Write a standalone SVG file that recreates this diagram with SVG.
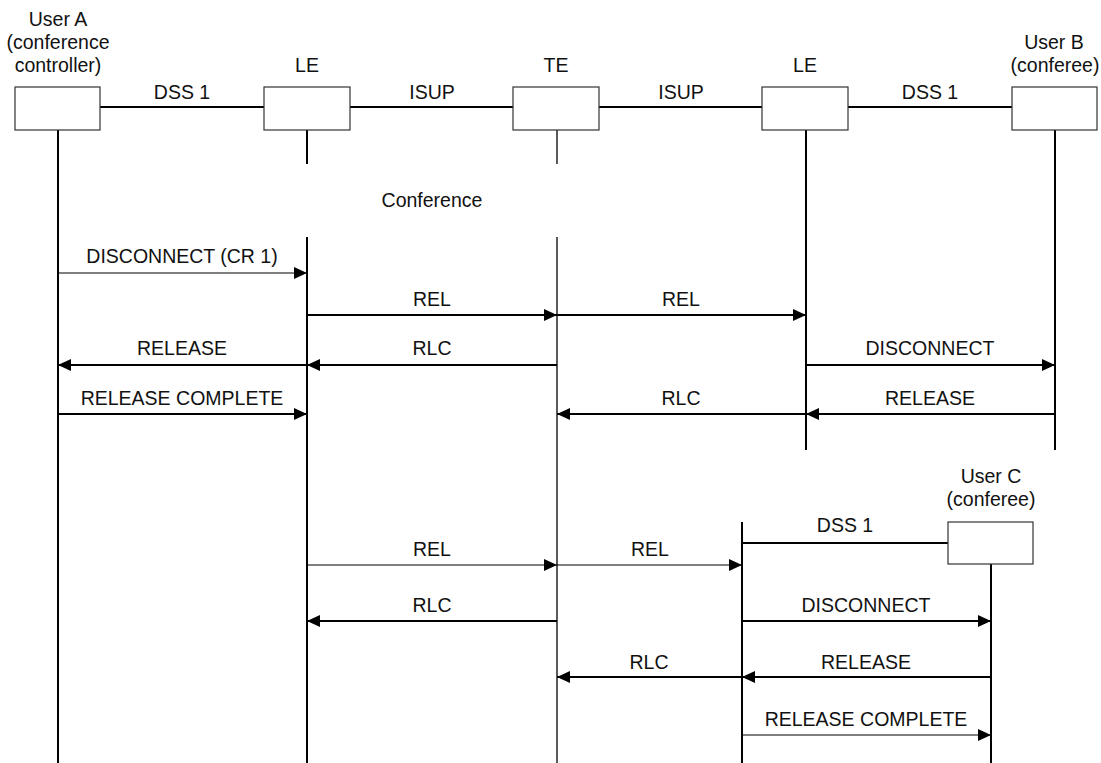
<svg xmlns="http://www.w3.org/2000/svg" width="1101" height="763" viewBox="0 0 1101 763">
<style>
text{font-family:"Liberation Sans",Arial,sans-serif;font-size:19.5px;fill:#111;text-anchor:middle}
.box{fill:#fff;stroke:#333;stroke-width:1.2}
.life{stroke:#000;stroke-width:2;fill:none}
.lifet{stroke:#000;stroke-width:1.3;fill:none}
.link{stroke:#000;stroke-width:2.2;fill:none}
.thick{stroke:#000;stroke-width:2.2;fill:none;marker-end:url(#ah)}
.thin{stroke:#000;stroke-width:1.1;fill:none;marker-end:url(#ah)}
</style>
<defs>
<marker id="ah" markerUnits="userSpaceOnUse" markerWidth="14" markerHeight="13" refX="13" refY="6" orient="auto">
<path d="M0,0 L13,6 L0,12 z" fill="#000"/>
</marker>
</defs>
<rect width="1101" height="763" fill="#fff"/>

<g id="lifelines">
<line class="life" x1="58" y1="130" x2="58" y2="763"/>
<line class="life" x1="307" y1="130" x2="307" y2="164"/>
<line class="life" x1="307" y1="237" x2="307" y2="763"/>
<line class="lifet" x1="557" y1="130" x2="557" y2="164"/>
<line class="lifet" x1="557" y1="237" x2="557" y2="763"/>
<line class="life" x1="806" y1="130" x2="806" y2="450"/>
<line class="life" x1="1055" y1="130" x2="1055" y2="450"/>
<line class="life" x1="742" y1="522" x2="742" y2="763"/>
<line class="life" x1="991" y1="564" x2="991" y2="763"/>
</g>

<g id="links">
<line class="link" x1="100" y1="107" x2="264" y2="107"/>
<line class="link" x1="350" y1="107" x2="513" y2="107"/>
<line class="link" x1="599" y1="107" x2="762" y2="107"/>
<line class="link" x1="848" y1="107" x2="1012" y2="107"/>
<line class="link" x1="742" y1="543" x2="948" y2="543"/>
<text x="182" y="99">DSS 1</text>
<text x="432" y="99">ISUP</text>
<text x="681" y="99">ISUP</text>
<text x="930" y="99">DSS 1</text>
<text x="845" y="532">DSS 1</text>
</g>

<g id="userA">
<rect class="box" x="15" y="87" width="85" height="43"/>
<text x="58" y="26">User A</text>
<text x="58" y="49">(conference</text>
<text x="58" y="72">controller)</text>
</g>
<g id="LE1">
<rect class="box" x="264" y="87" width="86" height="43"/>
<text x="307" y="72">LE</text>
</g>
<g id="TE">
<rect class="box" x="513" y="87" width="86" height="43"/>
<text x="556" y="72">TE</text>
</g>
<g id="LE2">
<rect class="box" x="762" y="87" width="86" height="43"/>
<text x="805" y="72">LE</text>
</g>
<g id="userB">
<rect class="box" x="1012" y="87" width="85" height="43"/>
<text x="1054" y="49">User B</text>
<text x="1055" y="72">(conferee)</text>
</g>
<g id="userC">
<rect class="box" x="948" y="522" width="85" height="42"/>
<text x="991" y="483">User C</text>
<text x="991" y="506">(conferee)</text>
</g>
<g id="conference">
<text x="432" y="207">Conference</text>
</g>

<g id="connectors">
<line class="thin" x1="58" y1="273" x2="307" y2="273"/>
<text x="182" y="263">DISCONNECT (CR 1)</text>

<line class="thick" x1="307" y1="315" x2="557" y2="315"/>
<text x="432" y="306">REL</text>
<line class="thick" x1="557" y1="315" x2="806" y2="315"/>
<text x="681" y="306">REL</text>

<line class="thick" x1="307" y1="365" x2="58" y2="365"/>
<text x="182" y="355">RELEASE</text>
<line class="thick" x1="557" y1="365" x2="307" y2="365"/>
<text x="432" y="355">RLC</text>
<line class="thick" x1="806" y1="365" x2="1055" y2="365"/>
<text x="930" y="355">DISCONNECT</text>

<line class="thick" x1="58" y1="414" x2="307" y2="414"/>
<text x="182" y="405">RELEASE COMPLETE</text>
<line class="thick" x1="806" y1="414" x2="557" y2="414"/>
<text x="681" y="405">RLC</text>
<line class="thick" x1="1055" y1="414" x2="806" y2="414"/>
<text x="930" y="405">RELEASE</text>

<line class="thin" x1="307" y1="565" x2="557" y2="565"/>
<text x="432" y="556">REL</text>
<line class="thin" x1="557" y1="565" x2="742" y2="565"/>
<text x="650" y="556">REL</text>

<line class="thick" x1="557" y1="621" x2="307" y2="621"/>
<text x="432" y="612">RLC</text>
<line class="thick" x1="742" y1="621" x2="991" y2="621"/>
<text x="866" y="612">DISCONNECT</text>

<line class="thick" x1="742" y1="677" x2="557" y2="677"/>
<text x="649" y="669">RLC</text>
<line class="thick" x1="991" y1="677" x2="742" y2="677"/>
<text x="866" y="669">RELEASE</text>

<line class="thin" x1="742" y1="735" x2="991" y2="735"/>
<text x="866" y="726">RELEASE COMPLETE</text>
</g>
</svg>
